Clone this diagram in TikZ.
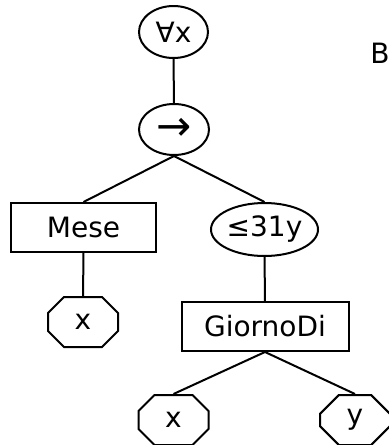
\documentclass[tikz,border=0pt]{standalone}
\usepackage{fontspec}
\setmainfont{DejaVu Sans}
\usetikzlibrary{shapes.geometric,shapes.misc}
\tikzset{
  base/.style={draw,line width=1pt,inner sep=0pt,font=\fontsize{14}{16}\selectfont},
  ell/.style={base,ellipse,minimum width=#1},
  ell/.default=35pt,
  box/.style={base,rectangle,minimum height=24.5pt,minimum width=#1},
  box/.default=72.5pt,
  oct/.style={base,chamfered rectangle,chamfered rectangle xsep=7.5pt,
    chamfered rectangle ysep=7.5pt,minimum width=35pt,minimum height=25pt},
  edge/.style={line width=1pt},
}
\begin{document}
\begin{tikzpicture}[x=0.5pt,y=-0.5pt]
  \useasboundingbox (0,0) rectangle (389,445);
  % quantifier and implication
  \node[ell=34.5pt,minimum height=26pt] (forall) at (173.5,32) {∀x};
  \node[ell,minimum height=25.5pt,font=\fontsize{21}{22}\selectfont] (impl) at (174,129.5) {→};
  \node[font=\fontsize{14}{16}\selectfont] (lblB) at (380,53) {B};
  % left branch
  \node[box] (mese) at (83.5,227.5) {Mese};
  \node[oct] (x1) at (83,322) {x};
  % right branch
  \node[ell=49.5pt,minimum height=26.5pt] (leq) at (264.5,229.5) {≤31y};
  \node[box=83.5pt] (giorno) at (265,326.5) {GiornoDi};
  \node[oct] (x2) at (173.5,420) {x};
  \node[oct] (yy) at (355,420) {y};
  % connectors
  \draw[edge] (forall) -- (impl);
  \draw[edge] (impl.south) -- (mese.north);
  \draw[edge] (impl.south) -- (leq.north);
  \draw[edge] (mese) -- (x1);
  \draw[edge] (leq) -- (giorno);
  \draw[edge] (giorno.south) -- (x2.north);
  \draw[edge] (giorno.south) -- (yy.north);
\end{tikzpicture}
\end{document}
